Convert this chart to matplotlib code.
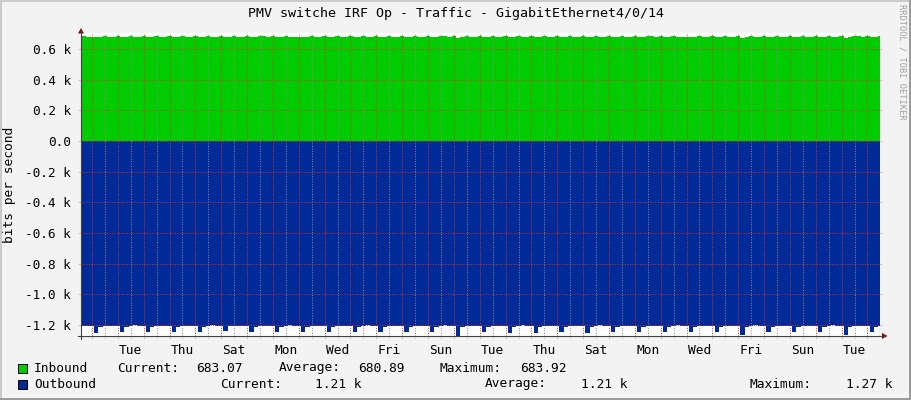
import numpy as np
import matplotlib
matplotlib.use("Agg")
import matplotlib.pyplot as plt
from matplotlib.lines import Line2D
from matplotlib.patches import Rectangle, Polygon

# 4-hour samples, start hour counted from the first midnight (a Monday)
hours = np.arange(-14, 731, 4)

# bits per second, one row per day (samples at 02,06,10,14,18,22 h)
inbound = [682, 683, 681, 682,
    676, 682, 683, 682, 681, 683,
    676, 682, 683, 682, 681, 683,
    677, 682, 683, 682, 682, 683,
    676, 681, 683, 682, 681, 683,
    676, 682, 684, 682, 681, 683,
    677, 682, 683, 682, 681, 683,
    676, 682, 683, 683, 681, 683,
    676, 682, 683, 682, 681, 682,
    676, 681, 683, 682, 681, 683,
    677, 682, 683, 682, 682, 683,
    676, 682, 683, 682, 681, 683,
    676, 682, 684, 682, 681, 683,
    676, 682, 683, 682, 681, 683,
    677, 682, 683, 683, 681, 683,
    675, 682, 683, 682, 681, 683,
    676, 682, 683, 682, 681, 683,
    676, 681, 683, 682, 681, 683,
    676, 682, 683, 682, 682, 683,
    677, 682, 683, 682, 681, 683,
    676, 682, 684, 682, 681, 683,
    676, 682, 683, 682, 681, 683,
    676, 682, 683, 683, 681, 683,
    677, 682, 683, 682, 681, 682,
    676, 681, 683, 682, 681, 683,
    676, 682, 683, 682, 682, 683,
    675, 682, 683, 682, 681, 683,
    676, 682, 683, 682, 681, 683,
    677, 682, 684, 682, 681, 683,
    676, 682, 683, 682, 681, 683,
    675, 682, 683, 683, 681, 683,
    676, 682, 683]

outbound = [1206, 1204, 1207, 1210,
    1254, 1211, 1207, 1204, 1205, 1209,
    1247, 1212, 1207, 1203, 1205, 1210,
    1247, 1211, 1206, 1204, 1206, 1209,
    1247, 1212, 1207, 1204, 1205, 1210,
    1247, 1211, 1207, 1203, 1205, 1209,
    1241, 1210, 1206, 1204, 1206, 1210,
    1247, 1212, 1207, 1204, 1205, 1209,
    1247, 1211, 1207, 1203, 1205, 1210,
    1247, 1212, 1206, 1204, 1206, 1209,
    1247, 1211, 1207, 1204, 1205, 1210,
    1247, 1212, 1207, 1203, 1205, 1209,
    1247, 1211, 1206, 1204, 1206, 1210,
    1247, 1212, 1207, 1204, 1205, 1209,
    1247, 1211, 1207, 1203, 1205, 1210,
    1272, 1212, 1206, 1204, 1206, 1209,
    1247, 1211, 1207, 1204, 1205, 1210,
    1254, 1212, 1207, 1203, 1205, 1209,
    1254, 1211, 1206, 1204, 1206, 1210,
    1247, 1212, 1207, 1204, 1205, 1209,
    1254, 1211, 1207, 1203, 1205, 1210,
    1247, 1212, 1206, 1204, 1206, 1209,
    1247, 1211, 1207, 1204, 1205, 1210,
    1247, 1212, 1207, 1203, 1205, 1209,
    1247, 1211, 1206, 1204, 1206, 1210,
    1247, 1212, 1207, 1204, 1205, 1209,
    1267, 1211, 1207, 1203, 1205, 1210,
    1247, 1212, 1206, 1204, 1206, 1209,
    1247, 1211, 1207, 1204, 1205, 1210,
    1247, 1212, 1207, 1203, 1205, 1209,
    1263, 1211, 1206, 1204, 1206, 1210,
    1247, 1212, 1208]

day_labels = ["Tue", "Thu", "Sat", "Mon", "Wed", "Fri", "Sun", "Tue",
              "Thu", "Sat", "Mon", "Wed", "Fri", "Sun", "Tue"]
label_days = list(range(1, 30, 2))

ytick_vals = [600, 400, 200, 0, -200, -400, -600, -800, -1000, -1200]
ytick_text = ["0.6 k", "0.4 k", "0.2 k", "0.0", "-0.2 k", "-0.4 k",
              "-0.6 k", "-0.8 k", "-1.0 k", "-1.2 k"]

title = "PMV switche IRF Op - Traffic - GigabitEthernet4/0/14"

W, H = 911, 400
BG = "#F3F3F3"
GREEN = "#00CC00"
BLUE = "#002A97"
MGRID = (0.85, 0.20, 0.20, 0.32)
GRID = (0.55, 0.55, 0.55, 0.25)
MONO = "DejaVu Sans Mono"


def fx(x):
    return x / W


def fy(y):
    return 1 - y / H


fig = plt.figure(figsize=(W / 100, H / 100), dpi=100, facecolor=BG)
ax = fig.add_axes([fx(81), fy(336), (879 - 81) / W, (336 - 33) / H])
ax.set_facecolor("white")

x = np.append(hours, hours[-1] + 4)
yin = np.append(inbound, inbound[-1])
yout = -np.append(outbound, outbound[-1])
ax.fill_between(x, 0, yin, step="post", color=GREEN, lw=0, antialiased=False)
ax.fill_between(x, 0, yout, step="post", color=BLUE, lw=0, antialiased=False)

ax.set_xlim(-10.2, 730.7)
ax.set_ylim(-1272, 705)
for s in ax.spines.values():
    s.set_visible(False)

# x: labels at noon every two days, red grid at midnight, grey at noon
noons = [24 * d + 12 for d in range(30)]
labels = [""] * 30
for d, t in zip(label_days, day_labels):
    labels[d] = t
ax.set_xticks(noons, labels)
ax.set_xticks([24 * d for d in range(31)], minor=True)
ax.set_yticks(ytick_vals, ytick_text)
ax.set_yticks([v + 100 for v in range(-1300, 700, 200)], minor=True)

ax.set_axisbelow(False)
dot = (0, (1, 1.6))
ax.xaxis.grid(True, which="minor", color=MGRID, ls=dot, lw=0.7)
ax.xaxis.grid(True, which="major", color=GRID, ls=dot, lw=0.7)
ax.yaxis.grid(True, which="major", color=MGRID, ls=dot, lw=0.7)
ax.yaxis.grid(True, which="minor", color=GRID, ls=dot, lw=0.7)

ax.tick_params(axis="x", which="major", length=2, color=GRID, pad=4,
               labelsize=9.3, labelfontfamily=MONO)
ax.tick_params(axis="x", which="minor", length=2, color=MGRID)
ax.tick_params(axis="y", which="major", length=2.5, color=MGRID, pad=4.8,
               left=True, right=True, labelsize=9.2, labelfontfamily=MONO)
ax.tick_params(axis="y", which="minor", length=2.5, color=GRID,
               left=True, right=True)

# axis lines with arrows
AX = "#404040"
ARROW = "#7A1010"
fig.add_artist(Line2D([fx(78), fx(884)], [fy(336), fy(336)], color=AX, lw=0.8))
fig.add_artist(Line2D([fx(81), fx(81)], [fy(339), fy(31)], color=AX, lw=0.8))
fig.add_artist(Polygon([(fx(882), fy(333)), (fx(887.5), fy(336)), (fx(882), fy(339))],
                       closed=True, color=ARROW, lw=0))
fig.add_artist(Polygon([(fx(78), fy(33.5)), (fx(81), fy(28)), (fx(84), fy(33.5))],
                       closed=True, color=ARROW, lw=0))

# frame
fig.add_artist(Rectangle((0, fy(2)), 1, 2 / H, color="#CBCBCB", lw=0))
fig.add_artist(Rectangle((0, 0), 2 / W, 1, color="#CBCBCB", lw=0))
fig.add_artist(Rectangle((0, 0), 1, 2 / H, color="#9B9B9B", lw=0))
fig.add_artist(Rectangle((fx(909), 0), 2 / W, 1, color="#9B9B9B", lw=0))

fig.text(0.5, fy(14), title, ha="center", va="center", fontsize=9.6, family=MONO)
fig.text(fx(10), fy(185), "bits per second", rotation=90, ha="center",
         va="center", fontsize=9.3, family=MONO)
fig.text(fx(902), fy(62), "RRDTOOL / TOBI OETIKER", rotation=-90, ha="center",
         va="center", fontsize=6.2, family=MONO, color="#A0A0A0")

# legend
fs = 9.3
for yy, col, name in [(368, GREEN, "Inbound"), (384, BLUE, "Outbound")]:
    fig.add_artist(Rectangle((fx(17.5), fy(yy + 5)), 9.5 / W, 9.5 / H,
                             facecolor=col, edgecolor="black", lw=0.7))
    fig.text(fx(34), fy(yy), name, va="center", fontsize=fs, family=MONO)

row1 = [(117, "Current:"), (196, "683.07"), (279, "Average:"), (358, "680.89"),
        (440, "Maximum:"), (520, "683.92")]
row2 = [(220, "Current:"), (315, "1.21 k"), (485, "Average:"), (581, "1.21 k"),
        (750, "Maximum:"), (846, "1.27 k")]
for xx, s in row1:
    fig.text(fx(xx), fy(368), s, va="center", fontsize=fs, family=MONO)
for xx, s in row2:
    fig.text(fx(xx), fy(384), s, va="center", fontsize=fs, family=MONO)

fig.savefig("out.png", dpi=100, facecolor=BG)
